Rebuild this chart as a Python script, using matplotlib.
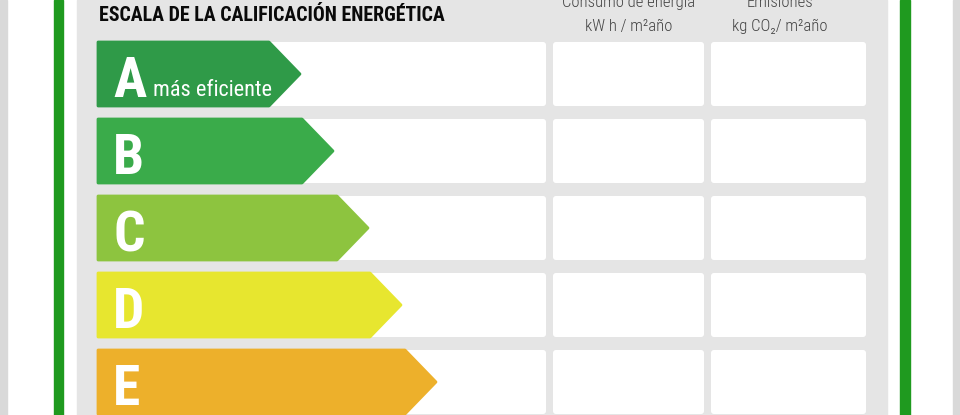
import matplotlib
matplotlib.use("Agg")
import matplotlib.pyplot as plt
from matplotlib.patches import Polygon, FancyBboxPatch, Rectangle

# datos de la escala
clases = ['A', 'B', 'C', 'D', 'E']
longitud = [202, 235, 270, 303, 338]   # largo de cada flecha (px)
colores = ['#2f9a48', '#3aab4a', '#8dc43f', '#e7e62f', '#edb02b']
titulo = 'ESCALA DE LA CALIFICACIÓN ENERGÉTICA'
col1 = ['Consumo de energía', 'kW h / m²año']
col2 = ['Emisiones', 'kg CO₂/ m²año']

FUENTE = ['Roboto Condensed', 'DejaVu Sans']

fig = plt.figure(figsize=(9.6, 4.15), dpi=100)
ax = fig.add_axes([0, 0, 1, 1])
ax.set_xlim(0, 960)
ax.set_ylim(415, 0)
ax.axis('off')

# marcos exteriores
ax.add_patch(Rectangle((0, 0), 7, 415, color='#d9d9d9'))
ax.add_patch(Rectangle((953, 0), 7, 415, color='#d9d9d9'))
ax.add_patch(Rectangle((54, 0), 9, 415, color='#1f9a1f'))
ax.add_patch(Rectangle((900, 0), 10, 415, color='#1f9a1f'))
ax.add_patch(Rectangle((77, 0), 810, 415, color='#e5e5e5'))

ax.text(99, 21, titulo, fontsize=14.3, fontweight='bold', family=FUENTE,
        color='#0a0a0a', va='baseline')
for cx, lineas in [(629, col1), (780, col2)]:
    ax.text(cx, 7, lineas[0], fontsize=12, fontweight='light', family=FUENTE,
            color='#444444', ha='center', va='baseline')
    ax.text(cx, 31, lineas[1], fontsize=12, fontweight='light', family=FUENTE,
            color='#444444', ha='center', va='baseline')

x0 = 98
alto = 64
paso = 77
for i, (c, l, col) in enumerate(zip(clases, longitud, colores)):
    y = 42 + paso * i
    # celdas blancas
    for (cx, cw) in [(98, 448), (553, 151), (711, 155)]:
        ax.add_patch(FancyBboxPatch((cx, y), cw, alto,
                                    boxstyle='round,pad=0,rounding_size=3',
                                    fc='white', ec='none'))
    xt = x0 + l
    xb = xt - 31
    pts = [(x0, y), (xb, y), (xt, y + alto / 2), (xb, y + alto), (x0, y + alto)]
    ax.add_patch(Polygon(pts, closed=True, fc=col, ec=col, lw=2, joinstyle='round'))
    ax.text(x0 + 15, y + 55, c, fontsize=40, fontweight='bold', family=FUENTE,
            color='white', va='baseline')
    if i == 0:
        ax.text(153, y + 54, 'más eficiente', fontsize=16, family=FUENTE,
                color='white', va='baseline')

fig.savefig('out.png', dpi=100)
